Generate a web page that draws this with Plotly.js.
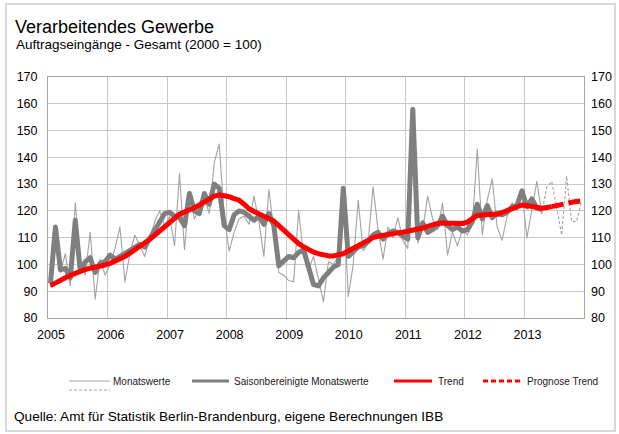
<!DOCTYPE html>
<html>
<head>
<meta charset="utf-8">
<script src="https://cdn.plot.ly/plotly-3.0.1.min.js"></script>
<style>
html,body{margin:0;padding:0;background:#fff;}
#chart{width:619px;height:434px;}
#frame{position:absolute;left:5px;top:3px;width:607px;height:425px;border:2px solid #d9d9d9;pointer-events:none;}
</style>
</head>
<body>
<div id="chart"></div>
<div id="frame"></div>
<script>
// ---- Data (monthly, starting January 2005) ----
const startYear = 2005;
const yearTicks = [2005, 2006, 2007, 2008, 2009, 2010, 2011, 2012, 2013];
const yTicks = [80, 90, 100, 110, 120, 130, 140, 150, 160, 170];

// Monatswerte, Jan 2005 - Apr 2013
const monatswerte = [
  91.5, 112, 97, 104, 92, 123, 101, 96, 112, 87, 102, 96,
  100, 106, 114, 93.5, 104, 111, 107, 103, 110, 116, 120, 114,
  118, 107, 134, 105.5, 127, 117, 121, 125, 119, 138, 145, 118,
  105, 112, 117, 118, 115, 125.5, 116, 103, 128, 112, 97, 96,
  94, 93.5, 120, 103, 98, 103, 94, 86, 101, 100, 103, 126,
  88, 100, 124, 105, 108, 129, 113, 102, 114, 110, 117.5, 109,
  106, 155, 108, 113, 125.5, 117, 113, 123, 103.5, 112, 107, 113,
  111, 115, 143, 111, 124, 132, 114, 109, 118, 123, 120, 127,
  110, 121, 131, 119
];
// Monatswerte forecast (dashed), Apr 2013 - Dec 2013
const monatswertePrognoseStart = 99;
const monatswertePrognose = [119, 129, 131, 121, 111, 133, 116, 116, 123.5];

// Saisonbereinigte Monatswerte, Jan 2005 - Apr 2013
const saisonbereinigt = [
  93, 114, 98, 98.5, 95, 116.5, 97.5, 101, 102.5, 97, 100.5, 101,
  103.5, 102, 103, 104, 105, 106, 107.5, 106.5, 109.5, 112.5, 116, 119,
  119.5, 118, 117.5, 114.5, 126.5, 120, 119, 126.5, 122.5, 130, 128.5, 114.5,
  113, 118.5, 120, 119.5, 118, 116.5, 118, 115, 119, 114.5, 99.5, 101.5,
  103, 102.5, 104.5, 105.5, 99.5, 92.5, 92, 95, 97, 99, 100, 128.5,
  103, 104.5, 106.5, 107, 108.5, 111, 112, 109.5, 111.5, 112.5, 112, 110.5,
  109.5, 158, 110, 115.5, 112, 113, 114.5, 118, 114.5, 113, 114, 112.5,
  113, 116, 122.5, 117, 122, 117.5, 119, 118.5, 119.5, 121.5, 122, 127.5,
  121.5, 124.5, 121, 120.5
];

// Trend, Jan 2005 - Jun 2013
const trend = [
  92.1, 93.2, 94.3, 95, 95.9, 96.8, 97.4, 98.1, 98.6, 98.9, 99.3, 99.8,
  100.4, 101.2, 101.8, 103, 104.2, 105.4, 106.6, 107.9, 109.4, 110.9, 112.5, 114.4,
  116.2, 117.5, 118.8, 119.6, 120.3, 121.2, 122.2, 123.4, 124.5, 125.5, 126, 125.7,
  125.3, 124.6, 124, 122.5, 120.8, 119.8, 118.8, 117.8, 117, 116.2, 114.5, 112.8,
  111, 109.2, 107.8, 106.6, 105.5, 104.6, 104, 103.5, 103.2, 103.2, 103.5, 104,
  105, 106, 107.3, 108.5, 109.5, 110, 110.5, 110.9, 111.2, 111.5, 111.8, 112,
  112.3, 112.7, 113, 113.6, 114.2, 114.8, 115.3, 115.5, 115.4, 115.2, 115.1, 115.3,
  115.8, 117.2, 118.3, 118.5, 118.5, 118.6, 118.8, 119.4, 120.2, 121, 121.7, 122.2,
  122, 121.6, 121.2, 121, 121.3, 121.6
];
// Prognose Trend, Jun 2013 - Dec 2013
const trendPrognoseStart = 101;
const trendPrognose = [121.6, 122.1, 122.5, 122.9, 123.2, 123.5, 123.8];

const legendLabels = ["Monatswerte", "Saisonbereinigte Monatswerte", "Trend", "Prognose Trend"];
const titleText = "Verarbeitendes Gewerbe";
const subtitleText = "Auftragseingänge - Gesamt (2000 = 100)";
const sourceText = "Quelle: Amt für Statistik Berlin-Brandenburg, eigene Berechnungen IBB";

// month index -> x position (middle of month)
function monthX(offset, n) {
  const out = [];
  for (let i = 0; i < n; i++) out.push(startYear + (offset + i + 0.5) / 12);
  return out;
}

const GRID = '#c8c8c8';
const LINE = '#a6a6a6';
const FONT = 'Liberation Sans, Arial, sans-serif';

const traces = [
  {x: monthX(0, monatswerte.length), y: monatswerte, mode: 'lines', name: legendLabels[0],
   line: {color: '#a3a3a3', width: 1.1}, hoverinfo: 'skip'},
  {x: monthX(monatswertePrognoseStart, monatswertePrognose.length), y: monatswertePrognose, mode: 'lines', name: legendLabels[0] + ' Prognose',
   line: {color: '#a3a3a3', width: 1.1, dash: '3px,2px'}, hoverinfo: 'skip'},
  {x: monthX(0, saisonbereinigt.length), y: saisonbereinigt, mode: 'lines', name: legendLabels[1],
   line: {color: '#7f7f7f', width: 5}, hoverinfo: 'skip'},
  {x: monthX(0, trend.length), y: trend, mode: 'lines', name: legendLabels[2],
   line: {color: '#ff0000', width: 5}, hoverinfo: 'skip'},
  {x: monthX(trendPrognoseStart, trendPrognose.length), y: trendPrognose, mode: 'lines', name: legendLabels[3],
   line: {color: '#ff0000', width: 5, dash: '12px,5px'}, hoverinfo: 'skip'},
  {x: monthX(0, trend.length), y: trend, mode: 'lines', yaxis: 'y2', showlegend: false,
   line: {color: 'rgba(0,0,0,0)', width: 0}, hoverinfo: 'skip'}
];

const L = 48, R = 35, T = 77, B = 116;
const W = 619, H = 434;
const pw = W - L - R, ph = H - T - B;
const xp = px => (px - L) / pw;
const yp = py => (H - B - py) / ph;

const shapes = [];
const annotations = [];
function legendLine(x0, x1, y, color, width, dash) {
  shapes.push({type: 'line', xref: 'paper', yref: 'paper', x0: xp(x0), x1: xp(x1), y0: yp(y), y1: yp(y),
    line: {color: color, width: width, dash: dash || 'solid'}});
}
function legendText(x, y, txt) {
  annotations.push({xref: 'paper', yref: 'paper', x: xp(x), y: yp(y), xanchor: 'left', yanchor: 'middle',
    text: txt, showarrow: false, font: {family: FONT, size: 10, color: '#1a1a1a'}});
}
legendLine(69, 110, 381, '#a3a3a3', 1);
legendLine(69, 110, 390, '#a3a3a3', 1, '3px,2px');
legendText(111, 381, legendLabels[0]);
legendLine(192, 229, 381, '#7f7f7f', 3);
legendText(232, 381, legendLabels[1]);
legendLine(394, 432, 381, '#ff0000', 3);
legendText(436, 381, legendLabels[2]);
legendLine(483, 521, 381, '#ff0000', 3, '5px,3px');
legendText(525, 381, legendLabels[3]);

annotations.push({xref: 'paper', yref: 'paper', x: xp(14), y: yp(44), xanchor: 'left', yanchor: 'middle',
  text: subtitleText, showarrow: false, font: {family: FONT, size: 13.5, color: '#000'}});
annotations.push({xref: 'paper', yref: 'paper', x: xp(12), y: yp(416), xanchor: 'left', yanchor: 'middle',
  text: sourceText, showarrow: false, font: {family: FONT, size: 13.6, color: '#000'}});

const yAxisCommon = {
  range: [80, 170], tickvals: yTicks, ticktext: yTicks.map(String),
  ticks: '', zeroline: false, fixedrange: true,
  tickfont: {family: FONT, size: 12.5, color: '#000'}
};

const layout = {
  width: W, height: H,
  margin: {l: L, r: R, t: T, b: B, pad: 0},
  paper_bgcolor: '#ffffff', plot_bgcolor: '#ffffff',
  showlegend: false,
  title: {text: titleText, xref: 'container', yref: 'container', x: 15 / W, xanchor: 'left',
    y: 1 - 27 / H, yanchor: 'middle', font: {family: FONT, size: 18, color: '#000'}},
  xaxis: {
    range: [startYear, startYear + 9], tickvals: yearTicks, ticktext: yearTicks.map(String),
    showgrid: true, gridcolor: GRID, gridwidth: 1,
    showline: true, linecolor: LINE, linewidth: 1, mirror: true,
    ticks: '', zeroline: false, fixedrange: true, ticklabelshift: 3, ticklabelstandoff: 5,
    tickfont: {family: FONT, size: 12.5, color: '#000'}
  },
  yaxis: Object.assign({}, yAxisCommon, {
    showgrid: true, gridcolor: GRID, gridwidth: 1,
    showline: true, linecolor: LINE, linewidth: 1, mirror: true, ticklabelstandoff: 7
  }),
  yaxis2: Object.assign({}, yAxisCommon, {
    overlaying: 'y', side: 'right', showgrid: false, showline: false, ticklabelstandoff: 6
  }),
  shapes: shapes,
  annotations: annotations
};

Plotly.newPlot('chart', traces, layout, {staticPlot: true, displayModeBar: false}).then(function () {
  document.querySelectorAll('.scatterlayer path.js-line').forEach(function (p) {
    p.style.strokeLinejoin = 'round';
  });
});
</script>
</body>
</html>
